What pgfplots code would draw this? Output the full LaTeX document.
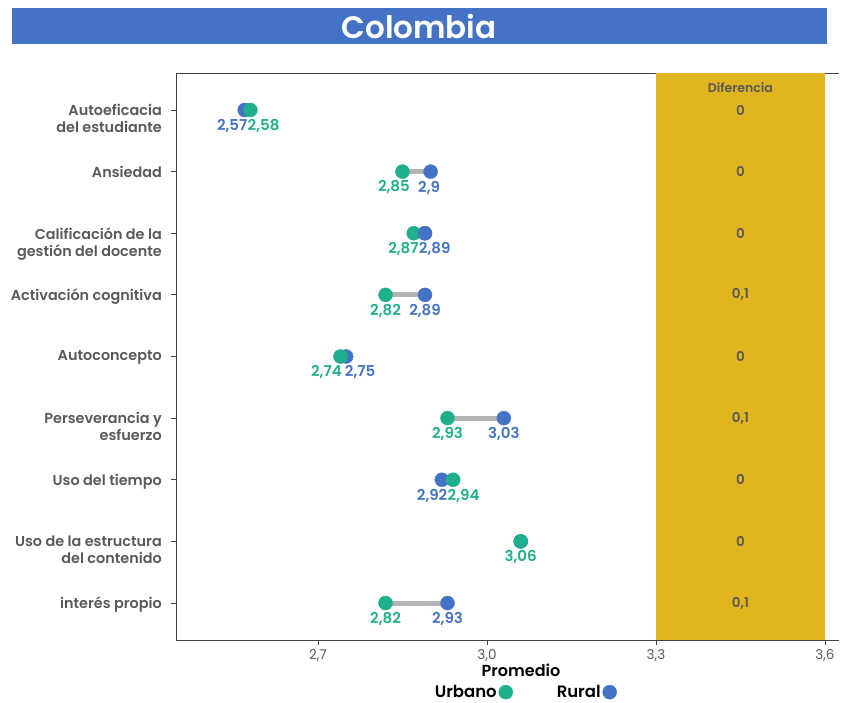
\documentclass[border=0pt]{standalone}
\usepackage{fontspec}
\setmainfont{Poppins}[BoldFont={Poppins SemiBold}]
\usepackage{pgfplots}
\pgfplotsset{compat=1.18}
\usepackage{pgfplotstable}
\definecolor{cblue}{HTML}{4472C4}
\definecolor{cgreen}{HTML}{1FAF8A}
\definecolor{cgold}{HTML}{E1B51F}
\definecolor{ctext}{HTML}{595959}
\definecolor{cline}{HTML}{B4B4B4}
\definecolor{caxis}{HTML}{404040}

\pgfplotstableread{
y urb rur
0 2.58 2.57
1 2.85 2.90
2 2.87 2.89
3 2.82 2.89
4 2.74 2.75
5 2.93 3.03
6 2.94 2.92
7 3.06 3.06
8 2.82 2.93
}\dat

\pgfplotstableread{
x y d
3.45 0 0
3.45 1 0
3.45 2 0
3.45 3 0,1
3.45 4 0
3.45 5 0,1
3.45 6 0
3.45 7 0
3.45 8 0,1
}\dif

\begin{document}
\begin{tikzpicture}
\path[use as bounding box] (0,0) rectangle (847pt,-703pt);
\fill[cblue] (12pt,-8pt) rectangle (827pt,-44pt);
\node[text=white, font=\fontsize{31}{34}\selectfont\bfseries] at (419pt,-26pt) {Colombia};
\begin{axis}[
  at={(176pt,-640pt)}, anchor=south west,
  scale only axis, width=663pt, height=567pt,
  xmin=2.448, xmax=3.625, ymin=-0.6, ymax=8.6, y dir=reverse,
  axis x line*=box, axis y line*=left,
  axis line style={caxis, line width=0.9pt},
  xtick={2.7,3.0,3.3,3.6}, xticklabels={{2,7},{3,0},{3,3},{3,6}},
  ytick={0,...,8},
  yticklabels={{Autoeficacia\\del estudiante},{Ansiedad},{Calificación de la\\gestión del docente},{Activación cognitiva},{Autoconcepto},{Perseverancia y\\esfuerzo},{Uso del tiempo},{Uso de la estructura\\del contenido},{interés propio}},
  xtick pos=bottom, ytick pos=left, tick align=outside,
  major tick length=5pt,
  tick style={caxis, line width=0.8pt},
  xticklabel style={text=ctext, font=\fontsize{13.5}{15}\selectfont, yshift=-1pt},
  yticklabel style={text=ctext, font=\fontsize{14.4}{17}\selectfont\bfseries, align=right, anchor=north east, inner sep=0pt, xshift=-9pt, yshift=6pt},
  unbounded coords=jump,
  clip=false,
  reverse legend,
  legend columns=2,
  legend plot pos=right,
  legend style={draw=none, fill=none, at={(0.526,-0.092)}, anchor=center,
    font=\fontsize{16.5}{18}\selectfont\bfseries,
    /tikz/every even column/.append style={column sep=42pt},
    inner sep=0pt},
  legend image code/.code={\draw[#1] plot coordinates {(7pt,0pt)};},
]
% gold band
\addplot[draw=none, fill=cgold, forget plot] coordinates {(3.3,-0.6) (3.6,-0.6) (3.6,8.6) (3.3,8.6)} -- cycle;
% connectors
\addplot[cline, line width=5pt, forget plot] coordinates {
(2.58,0) (2.57,0) (nan,nan)
(2.85,1) (2.90,1) (nan,nan)
(2.87,2) (2.89,2) (nan,nan)
(2.82,3) (2.89,3) (nan,nan)
(2.74,4) (2.75,4) (nan,nan)
(2.93,5) (3.03,5) (nan,nan)
(2.94,6) (2.92,6) (nan,nan)
(3.06,7) (3.06,7) (nan,nan)
(2.82,8) (2.93,8)};
% rural
\addplot[only marks, mark=*, mark size=7pt, cblue, mark options={draw=cblue, fill=cblue}] table[x=rur, y=y] {\dat};
\addlegendentry{Rural}
% urbano
\addplot[only marks, mark=*, mark size=7pt, cgreen, mark options={draw=cgreen, fill=cgreen}] table[x=urb, y=y] {\dat};
\addlegendentry{Urbano}
% rural on top where it is drawn in front
\addplot[only marks, mark=*, mark size=7pt, cblue, mark options={draw=cblue, fill=cblue}, forget plot] coordinates {(2.89,2)};
% labels
\pgfplotsset{lab/.style={draw=none, mark=none, forget plot, nodes near coords, point meta=explicit symbolic,
  nodes near coords style={anchor=#1, inner sep=0pt, yshift=-9pt, font=\fontsize{15}{17}\selectfont\bfseries}}}
\addplot[lab=north east, nodes near coords style={text=cblue}] table[meta=l] {
x y l
2.575 0 2,57
2.93 6 2,92
};
\addplot[lab=north west, nodes near coords style={text=cblue}] table[meta=l] {
x y l
2.8776 1 2,9
2.879 2 2,89
2.7475 4 2,75
};
\addplot[lab=north, nodes near coords style={text=cblue}] table[meta=l] {
x y l
2.89 3 2,89
3.03 5 3,03
2.93 8 2,93
};
\addplot[lab=north west, nodes near coords style={text=cgreen}] table[meta=l] {
x y l
2.575 0 2,58
2.93 6 2,94
};
\addplot[lab=north east, nodes near coords style={text=cgreen}] table[meta=l] {
x y l
2.8634 1 2,85
2.879 2 2,87
2.7425 4 2,74
};
\addplot[lab=north, nodes near coords style={text=cgreen}] table[meta=l] {
x y l
2.82 3 2,82
2.93 5 2,93
3.06 7 3,06
2.82 8 2,82
};
% diferencia
\addplot[draw=none, mark=none, forget plot, nodes near coords, point meta=explicit symbolic,
  nodes near coords style={anchor=center, inner sep=0pt, text=ctext, font=\fontsize{13.5}{15}\selectfont\bfseries}] table[x=x, y=y, meta=d] {\dif};
\addplot[draw=none, mark=none, forget plot, nodes near coords, point meta=explicit symbolic,
  nodes near coords style={anchor=center, inner sep=0pt, text=ctext, font=\fontsize{12.5}{14}\selectfont\bfseries}] table[meta=l] {
x y l
3.45 -0.37 Diferencia
};
\end{axis}
\node[text=black, font=\fontsize{16}{18}\selectfont\bfseries] at (521pt,-670pt) {Promedio};
\end{tikzpicture}
\end{document}
